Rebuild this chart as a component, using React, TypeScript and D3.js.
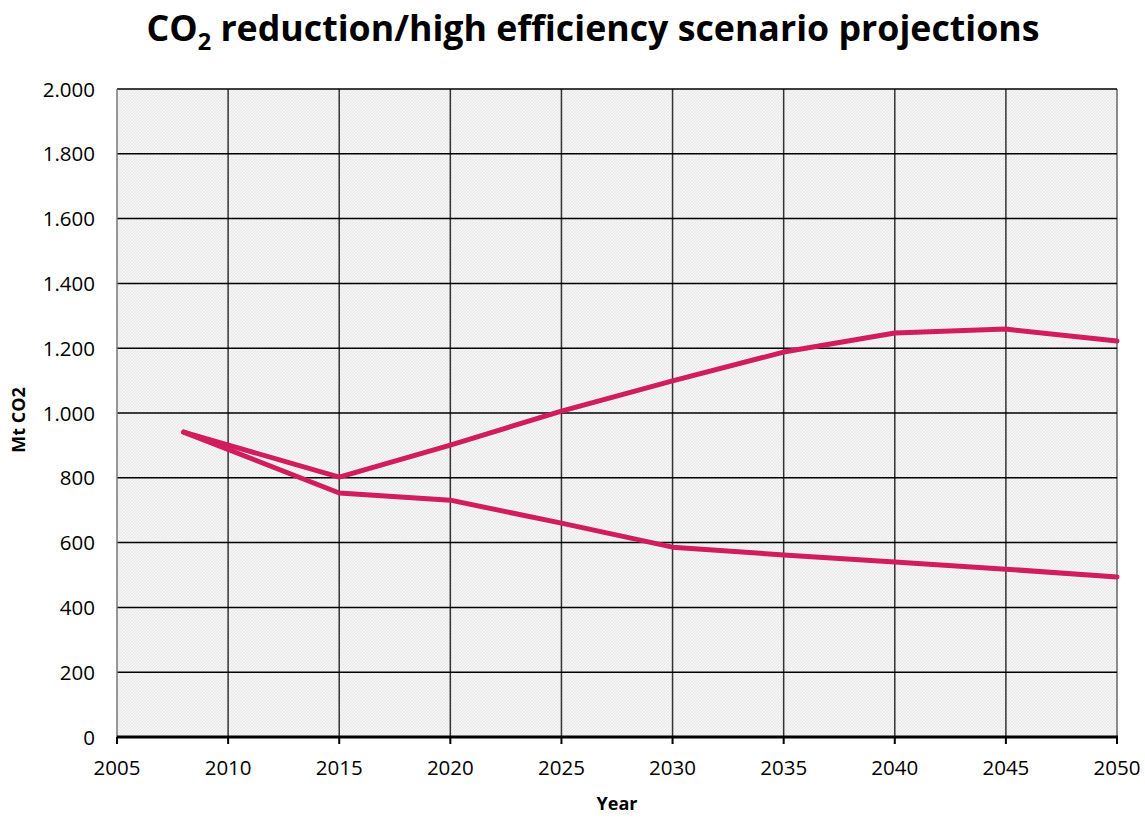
import React from "react";
import * as d3 from "d3";

const years = [2008, 2015, 2020, 2025, 2030, 2035, 2040, 2045, 2050];
const seriesUpper = [941, 802, 901, 1006, 1099, 1188, 1247, 1259, 1222];
const seriesLower = [941, 753, 731, 660, 586, 562, 540, 518, 494];
const xTicks = [2005, 2010, 2015, 2020, 2025, 2030, 2035, 2040, 2045, 2050];
const yTicks = [0, 200, 400, 600, 800, 1000, 1200, 1400, 1600, 1800, 2000];

const W = 1145, H = 819;
const L = 117, R = 1117, T = 89, B = 737;
const font = "'Open Sans', sans-serif";

export default function App() {
  const x = d3.scaleLinear().domain([2005, 2050]).range([L, R]);
  const y = d3.scaleLinear().domain([0, 2000]).range([B, T]);
  const line = d3.line<number>().x((_, i) => x(years[i])).y((d) => y(d));
  const fmt = (v: number) => d3.format(",")(v).replace(/,/g, ".");
  return (
    <svg width={W} height={H} style={{ position: "absolute", left: 0, top: 0 }}>
      <defs>
        <pattern id="hatch" width="3" height="3" patternUnits="userSpaceOnUse">
          <rect width="3" height="3" fill="#f5f5f5" />
          <path d="M0,3 L3,0" stroke="#e6e6e6" strokeWidth="1" />
        </pattern>
      </defs>
      <rect x={0} y={0} width={W} height={H} fill="#fff" />
      <text x={593} y={41} textAnchor="middle" fontFamily={font} fontWeight="bold" fontSize={35} textLength={893} lengthAdjust="spacingAndGlyphs">
        CO<tspan fontSize={23} dy={9}>2</tspan><tspan dy={-9}> reduction/high efficiency scenario projections</tspan>
      </text>
      <rect x={L} y={T} width={R - L} height={B - T} fill="url(#hatch)" />
      {xTicks.slice(1).map((t) => (
        <line key={"vx" + t} x1={x(t)} x2={x(t)} y1={T} y2={B} stroke={t === 2050 ? "#666" : "#333"} strokeWidth={1.5} />
      ))}
      {yTicks.slice(1).map((t) => (
        <line key={"hy" + t} x1={L} x2={R} y1={y(t)} y2={y(t)} stroke="#000" strokeWidth={1.5} />
      ))}
      <line x1={L} x2={L} y1={T} y2={B} stroke="#777" strokeWidth={1.5} />
      <line x1={L} x2={R + 1} y1={B} y2={B} stroke="#000" strokeWidth={3} />
      {xTicks.map((t) => (
        <line key={"tx" + t} x1={x(t)} x2={x(t)} y1={B} y2={B + 7} stroke="#000" strokeWidth={2} />
      ))}
      {yTicks.map((t) => (
        <text key={"ly" + t} x={95} y={y(t) + 7.5} textAnchor="end" fontFamily={font} fontSize={20.5}>
          {fmt(t)}
        </text>
      ))}
      {xTicks.map((t) => (
        <text key={"lx" + t} x={x(t)} y={775} textAnchor="middle" fontFamily={font} fontSize={20.5}>
          {t}
        </text>
      ))}
      <text x={617} y={810} textAnchor="middle" fontFamily={font} fontWeight="bold" fontSize={18}>
        Year
      </text>
      <text transform={`translate(25,420) rotate(-90)`} textAnchor="middle" fontFamily={font} fontWeight="bold" fontSize={18}>
        Mt CO2
      </text>
      {[seriesUpper, seriesLower].map((s, i) => (
        <path key={"s" + i} d={line(s) || ""} fill="none" stroke="#d11c5d" strokeWidth={5} strokeLinejoin="round" strokeLinecap="round" />
      ))}
    </svg>
  );
}
